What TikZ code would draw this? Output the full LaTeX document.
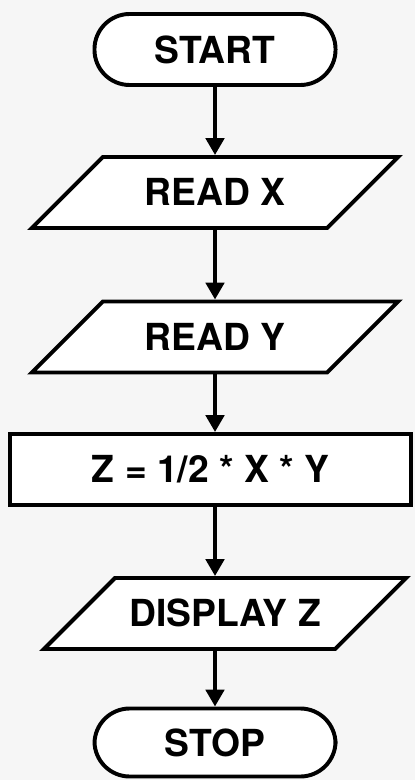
\documentclass[tikz,border=0pt]{standalone}
\usepackage{fontspec}
\setmainfont{TeX Gyre Heros}
\usetikzlibrary{shapes.geometric,arrows.meta}

\definecolor{bgpaper}{HTML}{F6F6F6}

\begin{document}
\begin{tikzpicture}[x=0.025cm, y=0.025cm]
    \tikzstyle{every node}+=[inner sep=0pt, font=\fontsize{26.5}{30}\selectfont\bfseries]
    \tikzstyle{terminal}=[draw=black, line width=2.8pt, fill=white, minimum width=6.025cm, minimum height=1.775cm, rounded corners=0.88cm]
    \tikzstyle{io}=[draw=black, line width=2.8pt, fill=white, trapezium, trapezium left angle=45, trapezium right angle=135, trapezium stretches body, text height=19pt, text depth=0pt, inner ysep=15.75pt]
    \tikzstyle{process}=[draw=black, line width=2.8pt, fill=white, minimum width=10.025cm, minimum height=1.775cm]
    \tikzstyle{flow}=[black, line width=2.8pt, -{Triangle[length=12pt,width=13pt]}]
    \fill [bgpaper] (0,0) rectangle (415,-780);
    \node [terminal] (start) at (215,-49.5) {START};
    \node [io, minimum width=9.15cm] (readx) at (215,-192.5) {READ X};
    \node [io, minimum width=9.15cm] (ready) at (215,-337) {READ Y};
    \node [process] (calc) at (210.5,-469.5) {Z = 1/2 * X * Y};
    \node [io, minimum width=9.05cm] (show) at (225,-613.5) {DISPLAY Z};
    \node [terminal, minimum height=1.7cm] (stop) at (215,-742.5) {STOP};
    \draw [flow] (start.south) -- (readx.north);
    \draw [flow] (readx.south) -- (ready.north);
    \draw [flow] (ready.south) -- (ready.south |- calc.north);
    \draw [flow] (calc.south -| ready.south) -- (show.north -| ready.south);
    \draw [flow] (show.south -| ready.south) -- (stop.north);
\end{tikzpicture}
\end{document}
